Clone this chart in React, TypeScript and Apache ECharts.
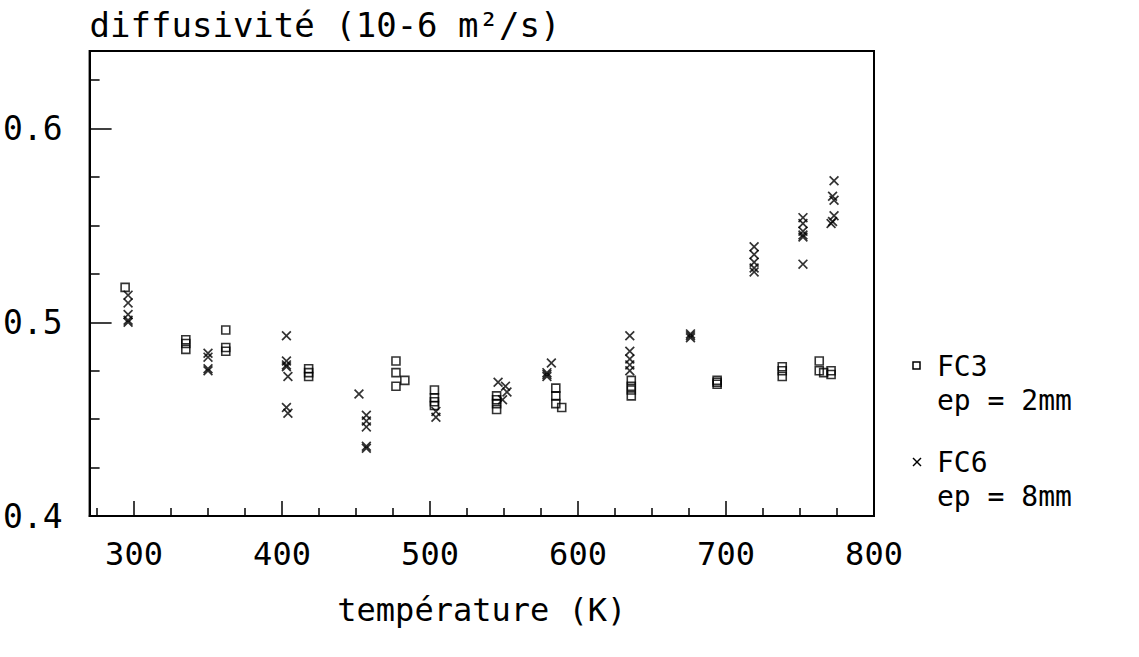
import React, { useEffect, useRef } from 'react';
import * as echarts from 'echarts';

// FC3, ep = 2mm : [température (K), diffusivité (10-6 m²/s)]
const fc3Points: [number, number][] = [
  [294, 0.518],
  [335, 0.491], [335, 0.489], [335, 0.486],
  [362, 0.496], [362, 0.487], [362, 0.485],
  [418, 0.476], [418, 0.474], [418, 0.472],
  [477, 0.480], [477, 0.474], [477, 0.467], [483, 0.470],
  [503, 0.465], [503, 0.461], [503, 0.459], [503, 0.457],
  [545, 0.462], [545, 0.460], [545, 0.458], [545, 0.455],
  [585, 0.466], [585, 0.462], [585, 0.458], [589, 0.456],
  [636, 0.470], [636, 0.467], [636, 0.465], [636, 0.462],
  [694, 0.470], [694, 0.469], [694, 0.468],
  [738, 0.477], [738, 0.475], [738, 0.472],
  [763, 0.480], [763, 0.475], [766, 0.474], [771, 0.475], [771, 0.473],
];

// FC6, ep = 8mm
const fc6Points: [number, number][] = [
  [296, 0.514], [296, 0.510], [296, 0.504], [296, 0.501], [296, 0.500],
  [350, 0.484], [350, 0.482], [350, 0.476], [350, 0.475],
  [403, 0.493], [403, 0.480], [403, 0.478], [403, 0.477], [404, 0.472], [403, 0.456], [404, 0.453],
  [452, 0.463],
  [457, 0.452], [457, 0.449], [457, 0.446], [457, 0.436], [457, 0.435],
  [504, 0.454], [504, 0.451],
  [546, 0.469], [551, 0.467], [552, 0.464], [549, 0.460],
  [579, 0.474], [579, 0.473], [579, 0.472], [582, 0.479],
  [635, 0.493], [635, 0.485], [635, 0.481], [635, 0.478], [635, 0.475],
  [676, 0.494], [676, 0.493], [676, 0.492],
  [719, 0.539], [719, 0.535], [719, 0.531], [719, 0.528], [719, 0.526],
  [752, 0.554], [752, 0.551], [752, 0.547], [752, 0.545], [752, 0.544], [752, 0.530],
  [773, 0.573], [772, 0.565], [773, 0.563], [773, 0.555], [772, 0.552], [771, 0.551],
];

const xMin = 270;
const xMax = 800;
const xMajorTicks = [300, 400, 500, 600, 700, 800];
const xMinorTicks = [275, 325, 350, 375, 425, 450, 475, 525, 550, 575, 625, 650, 675, 725, 750, 775];
const yMin = 0.4;
const yMax = 0.64;
const yMajorTicks = [0.4, 0.5, 0.6];
const yMinorTicks = [0.425, 0.45, 0.475, 0.525, 0.55, 0.575, 0.625];

const xTitle = 'température (K)';
const yTitle = 'diffusivité (10-6 m²/s)';
const legendItems = [
  { name: 'FC3', sub: 'ep = 2mm' },
  { name: 'FC6', sub: 'ep = 8mm' },
];

const FONT = '"DejaVu Sans Mono", monospace';
const X_PATH = 'path://M0,1.2L1.2,0L5,3.8L8.8,0L10,1.2L6.2,5L10,8.8L8.8,10L5,6.2L1.2,10L0,8.8L3.8,5Z';

export default function App() {
  const ref = useRef<HTMLDivElement>(null);
  useEffect(() => {
    if (!ref.current) return;
    const chart = echarts.init(ref.current, undefined, { renderer: 'svg' });
    const black = '#000';
    const legendText = (x: number, y: number, text: string) => ({
      type: 'text', x, y,
      style: {
        text, font: `28px ${FONT}`, fill: black, lineHeight: 34,
        align: 'left', verticalAlign: 'top', textAlign: 'left', textVerticalAlign: 'top',
      },
    });
    chart.setOption({
      animation: false,
      backgroundColor: '#fff',
      textStyle: { fontFamily: FONT, color: black },
      grid: {
        left: 87, right: 265, top: 51, bottom: 141,
        show: true, borderColor: black, borderWidth: 2, backgroundColor: 'transparent',
      },
      xAxis: [
        {
          type: 'value', min: xMin, max: xMax, position: 'bottom',
          axisLine: { show: true, lineStyle: { color: black, width: 2 } },
          axisTick: { show: true, inside: true, length: 8, customValues: xMinorTicks, lineStyle: { color: black, width: 1.5 } },
          axisLabel: { show: false }, splitLine: { show: false },
        },
        {
          type: 'value', min: xMin, max: xMax, position: 'bottom',
          axisLine: { show: false },
          axisTick: { show: true, inside: true, length: 15, customValues: xMajorTicks, lineStyle: { color: black, width: 1.5 } },
          axisLabel: { show: true, margin: 22, customValues: xMajorTicks, fontSize: 32, color: black, fontFamily: FONT },
          splitLine: { show: false },
          name: xTitle, nameLocation: 'middle', nameGap: 94,
          nameTextStyle: { fontSize: 32, color: black, fontFamily: FONT, verticalAlign: 'middle' },
        },
      ],
      yAxis: [
        {
          type: 'value', min: yMin, max: yMax, position: 'left',
          axisLine: { show: true, lineStyle: { color: black, width: 2 } },
          axisTick: { show: true, inside: true, length: 10, customValues: yMinorTicks, lineStyle: { color: black, width: 1.5 } },
          axisLabel: { show: false }, splitLine: { show: false },
        },
        {
          type: 'value', min: yMin, max: yMax, position: 'left',
          axisLine: { show: false },
          axisTick: { show: true, inside: true, length: 22, customValues: yMajorTicks, lineStyle: { color: black, width: 1.5 } },
          axisLabel: {
            show: true, margin: 27, customValues: yMajorTicks, fontSize: 33, color: black, fontFamily: FONT,
            formatter: (v: number) => v.toFixed(1),
          },
          splitLine: { show: false },
          name: yTitle, nameLocation: 'end', nameGap: 26,
          nameTextStyle: { fontSize: 34, color: black, fontFamily: FONT, align: 'left', verticalAlign: 'middle' },
        },
      ],
      series: [
        {
          name: legendItems[0].name, type: 'scatter', xAxisIndex: 0, yAxisIndex: 0,
          data: fc3Points, symbol: 'rect', symbolSize: 8,
          itemStyle: { color: 'rgba(0,0,0,0)', borderColor: black, borderWidth: 1.6 },
        },
        {
          name: legendItems[1].name, type: 'scatter', xAxisIndex: 0, yAxisIndex: 0,
          data: fc6Points, symbol: X_PATH, symbolSize: 10,
          itemStyle: { color: black },
        },
      ],
      graphic: [
        { type: 'rect', shape: { x: 913, y: 362, width: 7, height: 7 }, style: { fill: 'none', stroke: black, lineWidth: 1.5 } },
        { type: 'line', shape: { x1: 913, y1: 458, x2: 921, y2: 466 }, style: { stroke: black, lineWidth: 1.5 } },
        { type: 'line', shape: { x1: 921, y1: 458, x2: 913, y2: 466 }, style: { stroke: black, lineWidth: 1.5 } },
        legendText(937, 349, `${legendItems[0].name}\n${legendItems[0].sub}`),
        legendText(937, 445, `${legendItems[1].name}\n${legendItems[1].sub}`),
      ],
    });
    return () => chart.dispose();
  }, []);
  return (
    <div
      ref={ref}
      style={{ position: 'absolute', left: 0, top: 0, width: 1139, height: 657, background: '#fff' }}
    />
  );
}
